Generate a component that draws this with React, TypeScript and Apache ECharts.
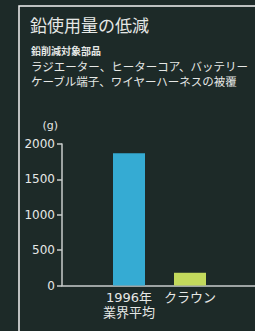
import React, { useEffect, useRef } from "react";
import * as echarts from "echarts";

const categories = ["1996年\n業界平均", "クラウン"];
const leadUse = [1870, 180];
const barColors = ["#35abd3", "#c3d95c"];
const yTicks = { min: 0, max: 2000, interval: 500 };
const titleText = "鉛使用量の低減";
const subTitle = "鉛削減対象部品";
const partsLine1 = "ラジエーター、ヒーターコア、バッテリー";
const partsLine2 = "ケーブル端子、ワイヤーハーネスの被覆";
const unitLabel = "(g)";

const BG = "#1d2a28";
const FG = "#e6e8e6";
const AXIS = "#c8cccb";
const JP = "'Noto Sans CJK JP', 'Noto Sans', sans-serif";
const NUM = "'DejaVu Sans', 'Noto Sans CJK JP', sans-serif";

export default function App() {
  const ref = useRef<HTMLDivElement>(null);
  useEffect(() => {
    document.body.style.margin = "0";
    document.body.style.background = BG;
    if (!ref.current) return;
    const chart = echarts.init(ref.current, undefined, { renderer: "svg" });
    chart.setOption({
      animation: false,
      backgroundColor: BG,
      title: [
        {
          text: titleText,
          left: 30,
          top: 15.5,
          padding: 0,
          textStyle: { color: FG, fontSize: 17, fontWeight: "normal", fontFamily: JP, lineHeight: 17 },
        },
        {
          text: subTitle,
          left: 31,
          top: 45,
          padding: 0,
          textStyle: { color: FG, fontSize: 10, fontWeight: "bold", fontFamily: JP, lineHeight: 11 },
        },
        {
          text: partsLine1,
          left: 31,
          top: 60,
          padding: 0,
          textStyle: { color: FG, fontSize: 11.5, fontWeight: "normal", fontFamily: JP, lineHeight: 12.5 },
        },
        {
          text: partsLine2,
          left: 31,
          top: 74.5,
          padding: 0,
          textStyle: { color: FG, fontSize: 11.5, fontWeight: "normal", fontFamily: JP, lineHeight: 12.5 },
        },
      ],
      graphic: [
        {
          type: "rect",
          shape: { x: 19, y: 6, width: 300, height: 400 },
          style: { fill: "none", stroke: "#f2f2f2", lineWidth: 1.5 },
          silent: true,
        },
      ],
      grid: [
        { left: 98.5, right: 34.5, top: 144, bottom: 45.5 },
        { left: 62, right: 0, top: 144, bottom: 45.5 },
      ],
      xAxis: [
        {
          type: "category",
          gridIndex: 0,
          data: categories,
          axisLine: { show: false },
          axisTick: { show: false },
          axisLabel: {
            color: FG,
            fontSize: 13,
            fontFamily: NUM,
            lineHeight: 15,
            margin: 4,
            interval: 0,
          },
        },
        {
          type: "value",
          gridIndex: 1,
          min: 0,
          max: 1,
          axisLine: { show: true, lineStyle: { color: AXIS, width: 1.5 } },
          axisTick: { show: false },
          axisLabel: { show: false },
          splitLine: { show: false },
        },
      ],
      yAxis: [
        {
          type: "value",
          gridIndex: 0,
          min: yTicks.min,
          max: yTicks.max,
          interval: yTicks.interval,
          show: false,
        },
        {
          type: "value",
          gridIndex: 1,
          min: yTicks.min,
          max: yTicks.max,
          interval: yTicks.interval,
          name: unitLabel,
          nameLocation: "end",
          nameGap: 13,
          nameTextStyle: { color: FG, fontSize: 11, fontFamily: NUM, align: "right", padding: [0, 4, 0, 0] },
          axisLine: { show: true, lineStyle: { color: AXIS, width: 1.5 } },
          axisTick: { show: true, inside: false, length: 5, lineStyle: { color: AXIS, width: 1.5 } },
          axisLabel: { color: FG, fontSize: 12, fontFamily: NUM, margin: 7, formatter: (v: number) => String(v) },
          splitLine: { show: false },
        },
      ],
      series: [
        {
          type: "bar",
          xAxisIndex: 0,
          yAxisIndex: 0,
          barWidth: 32,
          data: leadUse.map((v, i) => ({ value: v, itemStyle: { color: barColors[i] } })),
        },
      ],
    });
    return () => chart.dispose();
  }, []);
  return <div ref={ref} style={{ width: 255, height: 331 }} />;
}
